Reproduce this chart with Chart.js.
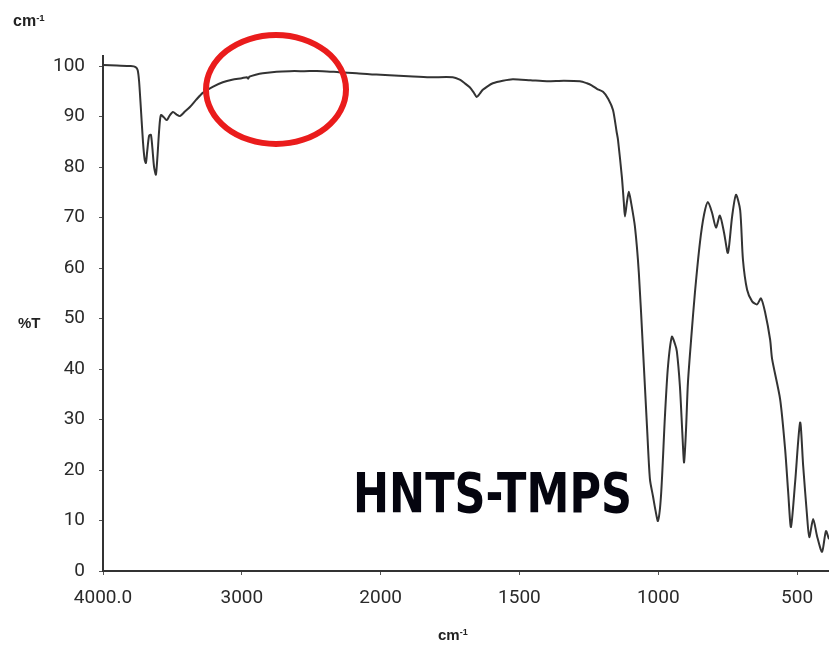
<!DOCTYPE html>
<html>
<head>
<meta charset="utf-8">
<script src="https://cdn.jsdelivr.net/npm/chart.js@4.4.0/dist/chart.umd.min.js"></script>
<style>
  body { margin: 0; background: #fff; }
  #wrap { position: relative; width: 829px; height: 649px; overflow: hidden; }
  #chart { position: absolute; left: 0; top: 0; }
  .lbl { position: absolute; font-family: "Liberation Sans", Arial, sans-serif; font-weight: bold; color: #222; white-space: nowrap; }
  .lbl sup { font-size: 60%; vertical-align: 0.55em; line-height: 0; }
  #title { position: absolute; left: 353px; top: 466px; font-family: "DejaVu Sans", sans-serif; font-weight: bold; font-size: 55px; line-height: 55px; color: #05050f; white-space: nowrap; transform-origin: 0 0; }
  #ring { position: absolute; left: 203px; top: 32px; width: 134px; height: 103px; border: 6px solid #ea1c1c; border-radius: 50%; }
</style>
</head>
<body>
<div id="wrap">
  <canvas id="chart" width="829" height="649"></canvas>
  <div class="lbl" style="left:13px; top:12px; font-size:16px;">cm<sup>-1</sup></div>
  <div class="lbl" style="left:18px; top:314px; font-size:15px;">%T</div>
  <div class="lbl" style="left:438px; top:626px; font-size:15px;">cm<sup>-1</sup></div>
  <div id="title">HNTS-TMPS</div>
  <div id="ring"></div>
</div>
<script>
// wavenumber (cm-1) and transmittance (%T)
const wavenumbers = [
  4000, 3900, 3800, 3765, 3750, 3740, 3728, 3712, 3700, 3691,
  3682, 3668, 3655, 3645, 3632, 3619, 3608, 3595, 3583, 3560,
  3540, 3520, 3496, 3470, 3446, 3410, 3374, 3330, 3281, 3210,
  3137, 3070, 3000, 2964, 2955, 2945, 2900, 2849, 2750, 2655,
  2550, 2417, 2300, 2173, 2080, 2000, 1968, 1900, 1823, 1740,
  1715, 1697, 1679, 1665, 1654, 1642, 1632, 1615, 1596, 1560,
  1524, 1460, 1401, 1340, 1282, 1257, 1240, 1221, 1199, 1180,
  1163, 1150, 1145, 1131, 1124, 1120, 1113, 1106, 1098, 1084,
  1070, 1055, 1040, 1030, 1019, 1010, 1001, 990, 976, 965,
  951, 940, 933, 922, 913, 907, 900, 893, 880, 868,
  850, 835, 821, 806, 792, 778, 763, 749, 734, 720,
  705, 695, 680, 662, 644, 630, 615, 597, 590, 561,
  543, 532, 522, 507, 489, 478, 464, 456, 442, 428,
  410, 396, 385
];
const transmittance = [
  100.2, 100.1, 100.0, 99.8, 99.2, 97.0, 92.0, 85.0, 81.5, 80.8,
  83.0, 86.2, 86.4, 84.0, 80.0, 78.5, 82.0, 87.5, 90.3, 89.8,
  89.3, 90.2, 90.9, 90.4, 90.1, 91.0, 91.9, 93.3, 94.7, 95.9,
  96.8, 97.3, 97.6, 97.8, 97.5, 97.9, 98.3, 98.6, 98.9, 99.0,
  99.0, 99.0, 98.8, 98.6, 98.4, 98.3, 98.2, 98.0, 97.8, 97.8,
  97.3, 96.6, 95.8, 94.8, 93.9, 94.6, 95.3, 96.0, 96.6, 97.1,
  97.4, 97.2, 97.0, 97.1, 97.0, 96.6, 96.2, 95.5, 94.9, 93.5,
  91.3, 87.0, 85.4, 78.0, 73.0, 70.2, 73.0, 75.1, 73.0, 68.2,
  59.1, 43.9, 28.0, 18.2, 14.8, 12.0, 9.9, 15.0, 30.6, 40.5,
  46.4, 45.0, 43.5, 36.6, 27.0, 21.5, 28.0, 37.4, 47.0, 55.1,
  65.0, 70.6, 73.1, 70.9, 68.0, 70.4, 67.0, 63.0, 70.2, 74.5,
  71.5, 61.7, 55.7, 53.4, 52.8, 54.0, 51.2, 45.8, 42.0, 34.0,
  24.1, 15.6, 8.7, 17.6, 29.4, 20.8, 10.9, 6.7, 10.3, 6.9,
  3.8, 7.9, 6.3
];
const xTicks = [4000, 3000, 2000, 1500, 1000, 500];
const yTicks = [0, 10, 20, 30, 40, 50, 60, 70, 80, 90, 100];

// spectrometer axis: 4000-2000 drawn at half the scale of 2000 and below
const BREAK = 2000;
function warp(v) { return v >= BREAK ? (4000 - v) / 2 : (4000 - BREAK) / 2 + (BREAK - v); }
function unwarp(u) { const ub = (4000 - BREAK) / 2; return u <= ub ? 4000 - 2 * u : BREAK - (u - ub); }

class WarpScale extends Chart.LinearScale {
  getPixelForValue(value) {
    const a = warp(this.max), b = warp(this.min);
    return this.getPixelForDecimal((warp(value) - a) / (b - a));
  }
  getValueForPixel(pixel) {
    const a = warp(this.max), b = warp(this.min);
    return unwarp(a + this.getDecimalForPixel(pixel) * (b - a));
  }
}
WarpScale.id = "warp";
WarpScale.defaults = Chart.LinearScale.defaults;
Chart.register(WarpScale);

const tickFont = { family: "'Roboto', sans-serif", size: 19 };

new Chart(document.getElementById("chart"), {
  type: "line",
  data: {
    datasets: [{
      data: wavenumbers.map((w, i) => ({ x: w, y: transmittance[i] })),
      borderColor: "#333",
      borderWidth: 2,
      pointRadius: 0,
      tension: 0.25,
      fill: false
    }]
  },
  options: {
    responsive: false,
    animation: false,
    layout: { padding: { top: 56, right: 0, left: 0, bottom: 0 } },
    plugins: { legend: { display: false }, tooltip: { enabled: false } },
    scales: {
      x: {
        type: "warp",
        min: 385,
        max: 4000,
        afterBuildTicks: s => { s.ticks = xTicks.map(v => ({ value: v })); },
        afterFit: s => { s.height = 78; },
        grid: { display: true, drawOnChartArea: false, tickLength: 4, color: "#555" },
        border: { display: true, color: "#333", width: 2 },
        ticks: {
          autoSkip: false,
          maxRotation: 0,
          padding: 12,
          color: "#2a2a2a",
          font: tickFont,
          callback: v => v === 4000 ? "4000.0" : String(v)
        }
      },
      y: {
        min: 0,
        max: 102,
        afterBuildTicks: s => { s.ticks = yTicks.map(v => ({ value: v })); },
        afterFit: s => { s.width = 103; },
        grid: { display: true, drawOnChartArea: false, tickLength: 4, color: "#555" },
        border: { display: true, color: "#333", width: 2 },
        ticks: { padding: 14, color: "#2a2a2a", font: tickFont }
      }
    }
  }
});

// squeeze the big label to the width it has in the original
const title = document.getElementById("title");
title.style.transform = "scaleX(" + (279 / title.getBoundingClientRect().width) + ")";
</script>
</body>
</html>
